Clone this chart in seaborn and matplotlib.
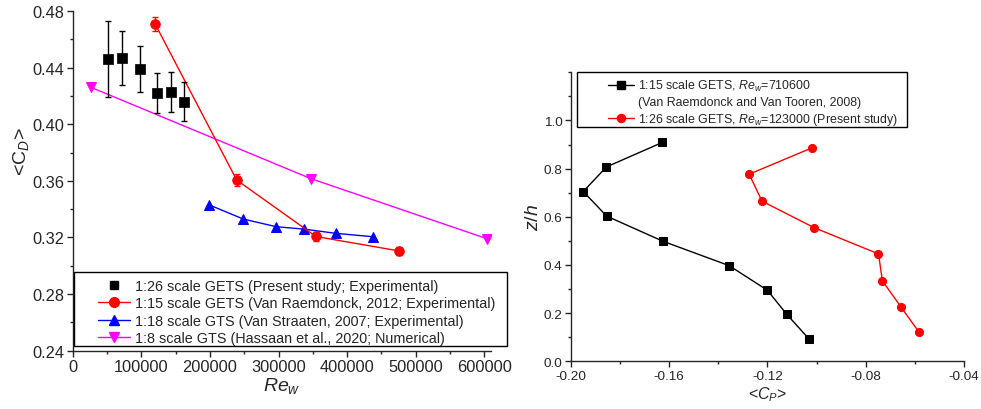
import matplotlib
matplotlib.use("Agg")
import matplotlib.pyplot as plt
from matplotlib.lines import Line2D
from matplotlib.patches import Rectangle
from matplotlib.ticker import MultipleLocator
import pandas as pd
import seaborn as sns

# --- left panel: mean drag coefficient vs Re_w ---
re_present = [52000, 72000, 98000, 123000, 143000, 162000]
cd_present = [0.446, 0.447, 0.439, 0.422, 0.423, 0.416]
cd_present_err = [0.027, 0.019, 0.016, 0.014, 0.014, 0.014]

re_vr2012 = [120000, 239000, 354500, 475500]
cd_vr2012 = [0.471, 0.3606, 0.3207, 0.3105]
cd_vr2012_err = [0.005, 0.004, 0.003, 0.003]

re_vs2007 = [199000, 248700, 296800, 337200, 383800, 438200]
cd_vs2007 = [0.343, 0.333, 0.3276, 0.3259, 0.3229, 0.3205]

re_hassaan = [26000, 347500, 603500]
cd_hassaan = [0.4262, 0.3615, 0.3192]

left_labels = [
    "1:26 scale GETS (Present study; Experimental)",
    "1:15 scale GETS (Van Raemdonck, 2012; Experimental)",
    "1:18 scale GTS (Van Straaten, 2007; Experimental)",
    "1:8 scale GTS (Hassaan et al., 2020; Numerical)",
]

# --- right panel: pressure coefficient profiles ---
cp_vr2008 = [-0.1627, -0.1855, -0.1949, -0.1854, -0.1626, -0.1355, -0.1200, -0.1121, -0.1029]
zh_vr2008 = [0.909, 0.807, 0.705, 0.603, 0.499, 0.397, 0.295, 0.195, 0.091]

cp_present = [-0.1017, -0.1274, -0.1222, -0.1010, -0.0748, -0.0732, -0.0656, -0.0583]
zh_present = [0.887, 0.777, 0.665, 0.555, 0.446, 0.334, 0.225, 0.121]

right_labels = [
    "1:15 scale GETS, $Re_w$=710600",
    "(Van Raemdonck and Van Tooren, 2008)",
    "1:26 scale GETS, $Re_w$=123000 (Present study)",
]

sns.set_style("ticks")
plt.rcParams["font.family"] = ["Liberation Sans", "DejaVu Sans"]
plt.rcParams["mathtext.fontset"] = "custom"
plt.rcParams["mathtext.rm"] = "Liberation Sans"
plt.rcParams["mathtext.it"] = "Liberation Sans:italic"
plt.rcParams["xtick.direction"] = "out"
plt.rcParams["ytick.direction"] = "out"
plt.rcParams["axes.linewidth"] = 1.0

fig = plt.figure(figsize=(9.81, 4.10), dpi=100)
ax1 = fig.add_axes([0.0741, 0.1422, 0.4266, 0.8285])
ax2 = fig.add_axes([0.5818, 0.1163, 0.4009, 0.7049])

# 1. Left panel
df_present = pd.DataFrame({"re": re_present, "cd": cd_present, "err": cd_present_err})
df_vr2012 = pd.DataFrame({"re": re_vr2012, "cd": cd_vr2012, "err": cd_vr2012_err})
df_vs2007 = pd.DataFrame({"re": re_vs2007, "cd": cd_vs2007})
df_hassaan = pd.DataFrame({"re": re_hassaan, "cd": cd_hassaan})

sns.lineplot(data=df_hassaan, x="re", y="cd", color="#FF00FF", marker="v",
             markersize=7.5, markeredgecolor="#FF00FF", linewidth=1,
             sort=False, estimator=None, ax=ax1)
sns.lineplot(data=df_vs2007, x="re", y="cd", color="#0000FF", marker="^",
             markersize=7.5, markeredgecolor="#0000FF", linewidth=1,
             sort=False, estimator=None, ax=ax1)
ax1.errorbar(df_vr2012["re"], df_vr2012["cd"], yerr=df_vr2012["err"], fmt="none",
             ecolor="#FF0000", elinewidth=1, capsize=2.5, capthick=1)
sns.lineplot(data=df_vr2012, x="re", y="cd", color="#FF0000", marker="o",
             markersize=6.8, markeredgecolor="#FF0000", linewidth=1,
             sort=False, estimator=None, ax=ax1)
ax1.errorbar(df_present["re"], df_present["cd"], yerr=df_present["err"], fmt="none",
             ecolor="black", elinewidth=1, capsize=2.5, capthick=1)
sns.scatterplot(data=df_present, x="re", y="cd", color="black", marker="s",
                s=42, edgecolor="black", linewidth=0.5, ax=ax1, zorder=5)

ax1.set_xticks([0, 100000, 200000, 300000, 400000, 500000, 600000])
ax1.set_xticklabels(["0", "100000", "200000", "300000", "400000", "500000", "600000"])
ax1.xaxis.set_minor_locator(MultipleLocator(50000))
ax1.set_yticks([0.24, 0.28, 0.32, 0.36, 0.40, 0.44, 0.48])
ax1.set_yticklabels(["0.24", "0.28", "0.32", "0.36", "0.40", "0.44", "0.48"])
ax1.yaxis.set_minor_locator(MultipleLocator(0.02))
ax1.set_xlim(0, 610000)
ax1.set_ylim(0.24, 0.48)
ax1.tick_params(axis="both", which="major", labelsize=11.8, length=4, width=1, pad=2)
ax1.tick_params(axis="both", which="minor", length=2.5, width=1)
ax1.set_xlabel("$Re_w$", fontsize=14, labelpad=1)
ax1.set_ylabel("<C$_D$>", fontsize=14)
ax1.yaxis.set_label_coords(-0.099, 0.59)
ax1.spines[["top", "right"]].set_visible(False)

handles1 = [
    Line2D([], [], color="black", marker="s", linestyle="none", markersize=6),
    Line2D([], [], color="#FF0000", marker="o", markersize=7, linewidth=1),
    Line2D([], [], color="#0000FF", marker="^", markersize=7.5, linewidth=1),
    Line2D([], [], color="#FF00FF", marker="v", markersize=7.5, linewidth=1),
]
ax1.legend(handles1, left_labels, loc="upper left", bbox_to_anchor=(0.0605, 0.211),
           borderaxespad=0, borderpad=0, fontsize=10.4, frameon=False,
           handlelength=2.2, handletextpad=0.35, labelspacing=0.23)
ax1.add_patch(Rectangle((0.0031, 0.013), 1.0358, 0.2178, transform=ax1.transAxes,
                        fill=False, edgecolor="black", linewidth=1, clip_on=False,
                        zorder=6))

# 2. Right panel
df_vr2008 = pd.DataFrame({"cp": cp_vr2008, "zh": zh_vr2008})
df_cp_present = pd.DataFrame({"cp": cp_present, "zh": zh_present})

sns.lineplot(data=df_vr2008, x="cp", y="zh", color="black", marker="s",
             markersize=5.3, markeredgecolor="black", linewidth=1,
             sort=False, estimator=None, ax=ax2)
sns.lineplot(data=df_cp_present, x="cp", y="zh", color="#FF0000", marker="o",
             markersize=5.8, markeredgecolor="#FF0000", linewidth=1,
             sort=False, estimator=None, ax=ax2)

ax2.set_xticks([-0.20, -0.16, -0.12, -0.08, -0.04])
ax2.set_xticklabels(["-0.20", "-0.16", "-0.12", "-0.08", "-0.04"])
ax2.xaxis.set_minor_locator(MultipleLocator(0.02))
ax2.set_yticks([0.0, 0.2, 0.4, 0.6, 0.8, 1.0])
ax2.set_yticklabels(["0.0", "0.2", "0.4", "0.6", "0.8", "1.0"])
ax2.yaxis.set_minor_locator(MultipleLocator(0.1))
ax2.set_xlim(-0.20, -0.04)
ax2.set_ylim(0.0, 1.2)
ax2.tick_params(axis="both", which="major", labelsize=9.7, length=4, width=1, pad=2)
ax2.tick_params(axis="both", which="minor", length=2.5, width=1)
ax2.set_xlabel("<$C_P$>", fontsize=11.5, labelpad=2)
ax2.set_ylabel("$z/h$", fontsize=14, labelpad=1)
ax2.spines[["top", "right"]].set_visible(False)

handles2 = [
    Line2D([], [], color="black", marker="s", markersize=5.3, linewidth=1),
    Line2D([], [], color="none", linestyle="none"),
    Line2D([], [], color="#FF0000", marker="o", markersize=5.8, linewidth=1),
]
ax2.legend(handles2, right_labels, loc="upper left", bbox_to_anchor=(0.094, 0.98),
           borderaxespad=0, borderpad=0, fontsize=8.9, frameon=False,
           handlelength=2.15, handletextpad=0.3, labelspacing=0.25)
ax2.add_patch(Rectangle((0.0153, 0.8097), 0.839, 0.1903, transform=ax2.transAxes,
                        fill=False, edgecolor="black", linewidth=1, clip_on=False,
                        zorder=6))

fig.savefig("out.png", dpi=100)
plt.close(fig)
